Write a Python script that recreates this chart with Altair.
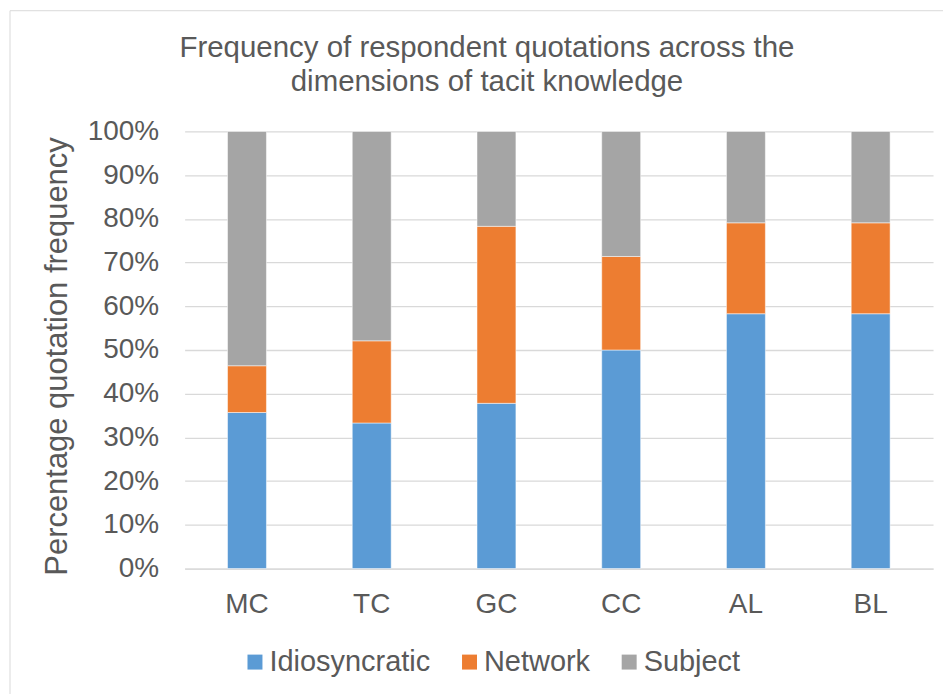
import altair as alt
import pandas as pd

categories = ["MC", "TC", "GC", "CC", "AL", "BL"]
series = ["Idiosyncratic", "Network", "Subject"]
idiosyncratic = [35.7, 33.3, 37.8, 50.0, 58.3, 58.3]
network = [10.7, 18.8, 40.5, 21.4, 20.8, 20.8]
subject = [53.6, 47.9, 21.7, 28.6, 20.9, 20.9]
colors = ["#5B9BD5", "#ED7D31", "#A5A5A5"]

rows = []
for i, c in enumerate(categories):
    for j, (s, vals) in enumerate(zip(series, [idiosyncratic, network, subject])):
        rows.append({"cat": c, "series": s, "value": vals[i] / 100.0, "ord": j})
df = pd.DataFrame(rows)

FONT = "Liberation Sans"
TXT = "#595959"

bars = alt.Chart(df).mark_bar(stroke="white", strokeWidth=0.5).encode(
    x=alt.X("cat:N", sort=categories, title=None,
            scale=alt.Scale(paddingInner=0.688, paddingOuter=0.344),
            axis=alt.Axis(labelAngle=0, ticks=False, labelPadding=22,
                          labelFontSize=28, labelColor=TXT, labelFont=FONT,
                          domainColor="#D9D9D9", domainWidth=1.3, grid=False)),
    y=alt.Y("value:Q", stack="zero", title="Percentage quotation frequency",
            scale=alt.Scale(domain=[0, 1], nice=False),
            axis=alt.Axis(format=".0%", values=[i / 10 for i in range(11)],
                          ticks=False, domain=False, labelPadding=26,
                          labelFontSize=28, labelColor=TXT, labelFont=FONT,
                          gridColor="#D9D9D9", gridWidth=1.3,
                          titleFontSize=31, titleColor=TXT, titleFont=FONT,
                          titleFontWeight="normal", titleAngle=-90,
                          titleBaseline="alphabetic", titleX=-118, titleY=225)),
    color=alt.Color("series:N", sort=series,
                    scale=alt.Scale(domain=series, range=colors),
                    legend=alt.Legend(title=None, orient="none", legendX=56, legendY=517,
                                      direction="horizontal", symbolType="square",
                                      symbolSize=225, symbolStrokeWidth=0,
                                      labelFontSize=29, labelColor=TXT, labelFont=FONT,
                                      labelLimit=400,
                                      labelOffset=0, columnPadding=24, padding=0)),
    order=alt.Order("ord:Q", sort="ascending"),
)

border_top = alt.Chart(pd.DataFrame({"a": [0]})).mark_rule(color="#D9D9D9", strokeWidth=1).encode(
    x=alt.value(-175), x2=alt.value(800), y=alt.value(-121)
)
border_left = alt.Chart(pd.DataFrame({"a": [0]})).mark_rule(color="#D9D9D9", strokeWidth=1).encode(
    x=alt.value(-175), y=alt.value(-121), y2=alt.value(600)
)

chart = alt.layer(border_top, border_left, bars).properties(
    width=750, height=438,
    title=alt.TitleParams(
        text=["Frequency of respondent quotations across the", "dimensions of tacit knowledge"],
        fontSize=29.5, font=FONT, color=TXT, fontWeight="normal",
        anchor="middle", dx=-72, lineHeight=34, offset=20, dy=107),
    autosize=alt.AutoSizeParams(type="none"),
    padding={"left": 177, "top": 123, "right": 10, "bottom": 125},
).configure_view(stroke=None)

chart.save("out.html", embed_options={"renderer": "svg", "actions": False})
